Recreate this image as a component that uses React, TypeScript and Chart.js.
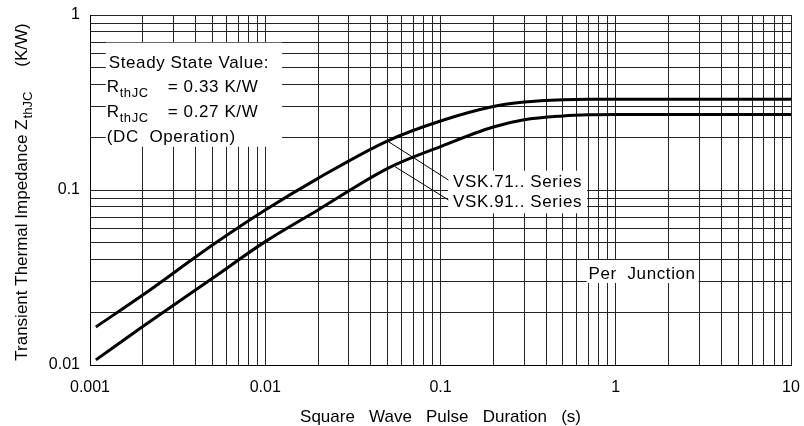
import React, { useEffect, useRef } from 'react';
import { Chart, registerables } from 'chart.js';

Chart.register(...registerables);

// ---- data ----
const pulseDuration = [0.00108, 0.002, 0.005, 0.01, 0.02, 0.05, 0.1, 0.2, 0.3, 0.5, 0.7, 1, 2, 5, 10];
const zthVSK71 = [0.0165, 0.0251, 0.0485, 0.0769, 0.1166, 0.191, 0.248, 0.300, 0.318, 0.328, 0.33, 0.33, 0.33, 0.33, 0.33];
const zthVSK91 = [0.0107, 0.0166, 0.0313, 0.0507, 0.0769, 0.133, 0.177, 0.229, 0.252, 0.265, 0.269, 0.27, 0.27, 0.27, 0.27];
const seriesNames = ['VSK.71.. Series', 'VSK.91.. Series'];

const xDecades = [0.001, 0.01, 0.1, 1, 10];
const xTickLabels = ['0.001', '0.01', '0.1', '1', '10'];
const yDecades = [0.01, 0.1, 1];
const yTickLabels = ['0.01', '0.1', '1'];

const steadyTitle = 'Steady State Value:';
const steadyValues = ['= 0.33 K/W', '= 0.27 K/W'];
const steadyFoot = '(DC  Operation)';
const rSymbol = ['R', 'thJC'];
const perJunction = 'Per  Junction';
const xTitle = 'Square   Wave   Pulse   Duration   (s)';
const yTitle = ['Transient Thermal Impedance Z', 'thJC', '(K/W)'];

// annotation anchors in data coordinates
const steadyAnchor = { x: 0.00123, y: 0.5 };
const seriesLabelAnchor = { x: 0.118, y: 0.1044 };
const leader71 = { from: { x: 0.05, y: 0.19 }, to: { x: 0.111, y: 0.114 } };
const leader91 = { from: { x: 0.055, y: 0.136 }, to: { x: 0.111, y: 0.0877 } };
const perJunctionAnchor = { x: 0.7, y: 0.031 };

const FONT = "'Liberation Sans', Arial, Helvetica, sans-serif";

function logGrid(decades: number[]) {
  const out: number[] = [];
  for (let i = 0; i < decades.length - 1; i++) {
    for (let m = 1; m < 10; m++) out.push(parseFloat((decades[i] * m).toPrecision(6)));
  }
  out.push(decades[decades.length - 1]);
  return out;
}
const xGrid = logGrid(xDecades);
const yGrid = logGrid(yDecades);

function labelFor(value: number, decades: number[], labels: string[]) {
  const i = decades.findIndex((d) => Math.abs(d - value) / d < 1e-6);
  return i >= 0 ? labels[i] : '';
}

const notesPlugin = {
  id: 'notes',
  afterDraw(chart: any) {
    const { ctx, chartArea, scales } = chart;
    const X = (v: number) => scales.x.getPixelForValue(v);
    const Y = (v: number) => scales.y.getPixelForValue(v);
    ctx.save();
    ctx.fillStyle = '#000';
    ctx.strokeStyle = '#000';

    // x title
    ctx.font = `17px ${FONT}`;
    ctx.textAlign = 'center';
    ctx.textBaseline = 'alphabetic';
    ctx.fillText(xTitle, (chartArea.left + chartArea.right) / 2, chartArea.bottom + 57);

    // y title (rotated, with subscript)
    ctx.save();
    ctx.translate(21, (chartArea.top + chartArea.bottom) / 2 + 2);
    ctx.rotate(-Math.PI / 2);
    ctx.textAlign = 'left';
    ctx.font = `17px ${FONT}`;
    const wMain = ctx.measureText(yTitle[0]).width;
    const wUnit = ctx.measureText(yTitle[2]).width;
    ctx.font = `13px ${FONT}`;
    const wSub = ctx.measureText(yTitle[1]).width;
    const gap = 26;
    const total = wMain + wSub + gap + wUnit;
    let p = -total / 2;
    ctx.font = `17px ${FONT}`;
    ctx.fillText(yTitle[0], p, 6);
    p += wMain;
    ctx.font = `13px ${FONT}`;
    ctx.fillText(yTitle[1], p + 1, 11);
    p += wSub + gap;
    ctx.font = `17px ${FONT}`;
    ctx.fillText(yTitle[2], p, 6);
    ctx.restore();

    ctx.textAlign = 'left';
    ctx.textBaseline = 'alphabetic';
    (ctx as any).letterSpacing = '0.6px';

    // Steady state block
    const sx = X(steadyAnchor.x);
    const sy = Y(steadyAnchor.y);
    const step = 24.7;
    ctx.font = `17px ${FONT}`;
    const wSteady = ctx.measureText(steadyTitle).width;
    ctx.fillStyle = '#fff';
    ctx.fillRect(sx, sy - 25, wSteady + 16, 3 * step + 30);
    ctx.fillStyle = '#000';
    ctx.fillText(steadyTitle, sx + 3, sy);
    steadyValues.forEach((txt, i) => {
      const by = sy + step * (i + 1);
      ctx.font = `17px ${FONT}`;
      ctx.fillText(rSymbol[0], sx + 1, by);
      const rw = ctx.measureText(rSymbol[0]).width;
      ctx.font = `13px ${FONT}`;
      ctx.fillText(rSymbol[1], sx + 1 + rw, by + 5);
      ctx.font = `17px ${FONT}`;
      ctx.fillText(txt, sx + 62, by);
    });
    ctx.fillText(steadyFoot, sx + 1, sy + step * 3);

    // Series labels with leader lines
    const lx = X(seriesLabelAnchor.x);
    const ly = Y(seriesLabelAnchor.y);
    const lstep = 20.6;
    const wSer = Math.max(...seriesNames.map((s) => ctx.measureText(s).width));
    ctx.fillStyle = '#fff';
    ctx.fillRect(lx - 5, ly - 16, wSer + 10, lstep + 22);
    ctx.fillStyle = '#000';
    seriesNames.forEach((s, i) => ctx.fillText(s, lx, ly + lstep * i));
    ctx.lineWidth = 1;
    [leader71, leader91].forEach((l) => {
      ctx.beginPath();
      ctx.moveTo(X(l.from.x), Y(l.from.y));
      ctx.lineTo(X(l.to.x), Y(l.to.y));
      ctx.stroke();
    });

    // Per Junction
    const px = X(perJunctionAnchor.x);
    const py = Y(perJunctionAnchor.y);
    const wPj = ctx.measureText(perJunction).width;
    ctx.fillStyle = '#fff';
    ctx.fillRect(px - 2, py - 19, wPj + 5, 23);
    ctx.fillStyle = '#000';
    ctx.fillText(perJunction, px, py);

    ctx.restore();
  },
};

export default function App() {
  const ref = useRef<HTMLCanvasElement>(null);
  useEffect(() => {
    const canvas = ref.current!;
    const chart = new Chart(canvas, {
      type: 'line',
      data: {
        datasets: [
          {
            label: seriesNames[0],
            data: pulseDuration.map((x, i) => ({ x, y: zthVSK71[i] })),
            borderColor: '#000',
            borderWidth: 3,
            pointRadius: 0,
            cubicInterpolationMode: 'monotone',
            fill: false,
          },
          {
            label: seriesNames[1],
            data: pulseDuration.map((x, i) => ({ x, y: zthVSK91[i] })),
            borderColor: '#000',
            borderWidth: 3,
            pointRadius: 0,
            cubicInterpolationMode: 'monotone',
            fill: false,
          },
        ],
      },
      options: {
        animation: false,
        responsive: false,
        devicePixelRatio: 1,
        layout: { padding: { top: 15, right: 13, left: 0, bottom: 0 } },
        plugins: { legend: { display: false }, tooltip: { enabled: false }, title: { display: false } },
        scales: {
          x: {
            type: 'logarithmic',
            min: 0.001,
            max: 10,
            afterBuildTicks: (s: any) => {
              s.ticks = xGrid.map((v) => ({ value: v }));
            },
            afterFit: (s: any) => {
              s.height = 61;
              s.paddingLeft = 0;
              s.paddingRight = 0;
              s.paddingTop = 0;
              s.paddingBottom = 0;
            },
            ticks: {
              autoSkip: false,
              maxRotation: 0,
              minRotation: 0,
              padding: 13,
              color: '#000',
              font: { family: FONT, size: 16 },
              callback: (v: any) => labelFor(Number(v), xDecades, xTickLabels),
            },
            grid: { color: '#222', lineWidth: 1, drawTicks: false },
            border: { display: true, color: '#000', width: 1 },
          },
          y: {
            type: 'logarithmic',
            min: 0.01,
            max: 1,
            afterBuildTicks: (s: any) => {
              s.ticks = yGrid.map((v) => ({ value: v }));
            },
            afterFit: (s: any) => {
              s.width = 90;
              s.paddingLeft = 0;
              s.paddingRight = 0;
              s.paddingTop = 0;
              s.paddingBottom = 0;
            },
            ticks: {
              autoSkip: false,
              padding: 10,
              color: '#000',
              font: { family: FONT, size: 16 },
              callback: (v: any) => labelFor(Number(v), yDecades, yTickLabels),
            },
            grid: { color: '#222', lineWidth: 1, drawTicks: false },
            border: { display: true, color: '#000', width: 1 },
          },
        },
      } as any,
      plugins: [notesPlugin],
    });
    return () => chart.destroy();
  }, []);
  return (
    <div style={{ position: 'absolute', left: 0, top: 0, width: 804, height: 426, background: '#fff' }}>
      <canvas ref={ref} width={804} height={426} style={{ display: 'block', width: 804, height: 426 }} />
    </div>
  );
}
